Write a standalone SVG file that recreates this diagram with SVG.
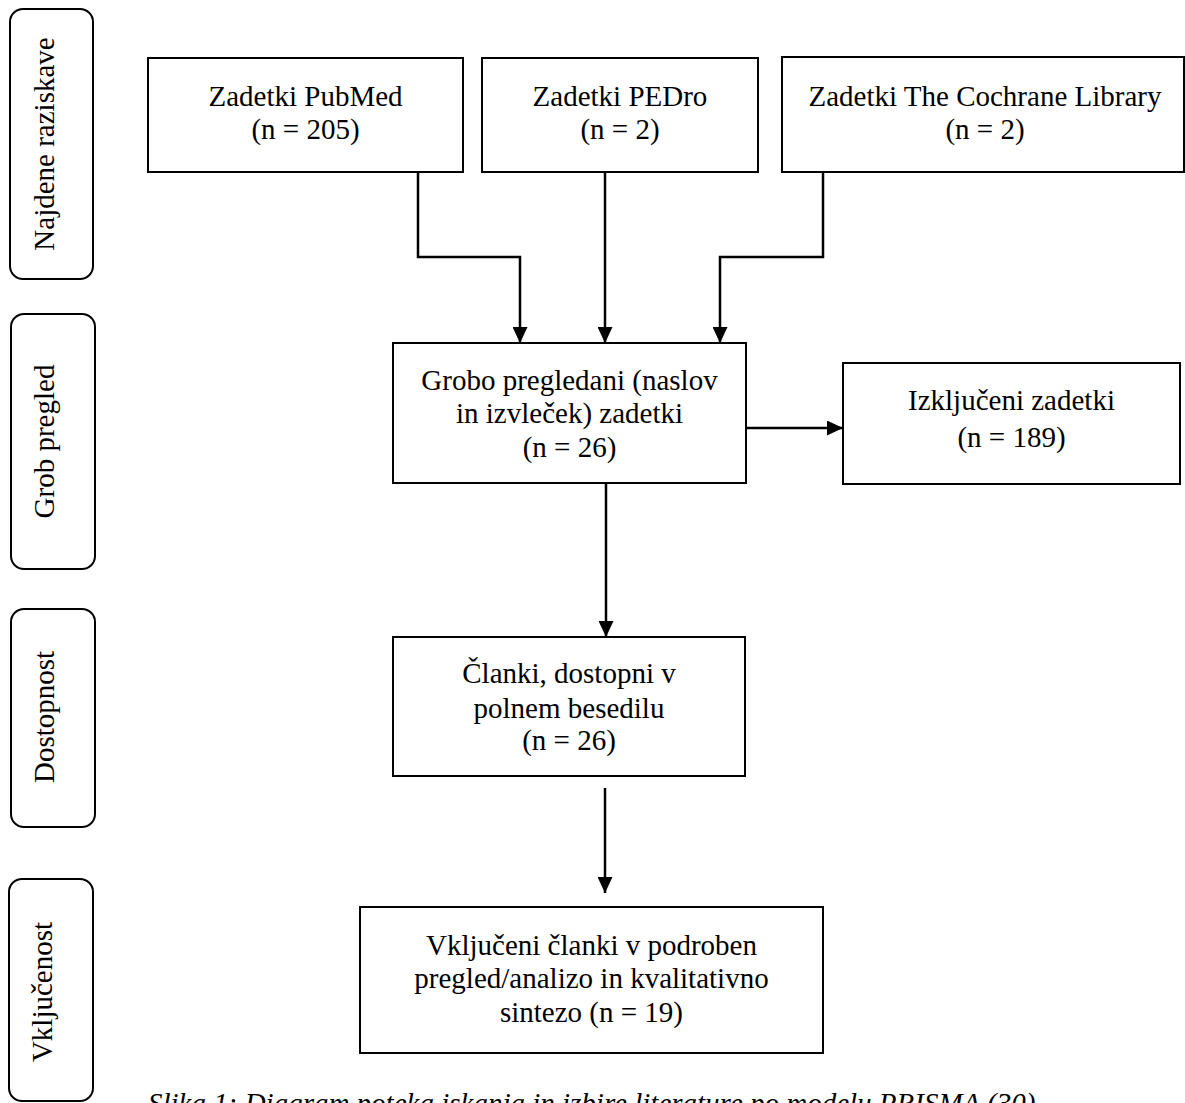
<svg xmlns="http://www.w3.org/2000/svg" width="1185" height="1103" viewBox="0 0 1185 1103">
<style>
text{font-family:"Liberation Serif","Times New Roman",serif;font-size:29px;fill:#000;text-anchor:middle}
.box{fill:#fff;stroke:#000;stroke-width:2}
.phase{fill:#fff;stroke:#000;stroke-width:2}
.con{fill:none;stroke:#000;stroke-width:2.5}
.cap{font-style:italic;text-anchor:start}
</style>
<defs>
<marker id="arr" markerUnits="userSpaceOnUse" markerWidth="16" markerHeight="15" refX="16" refY="7.5" orient="auto">
<path d="M0,0 L16,7.5 L0,15 Z" fill="#000"/>
</marker>
</defs>
<rect width="1185" height="1103" fill="#fff"/>

<g id="phase-najdene">
<rect class="phase" x="10" y="9" width="83" height="270" rx="13"/>
<text transform="translate(54,144) rotate(-90)">Najdene raziskave</text>
</g>
<g id="phase-grob">
<rect class="phase" x="11" y="314" width="84" height="255" rx="13"/>
<text transform="translate(54,441.5) rotate(-90)">Grob pregled</text>
</g>
<g id="phase-dostopnost">
<rect class="phase" x="11" y="609" width="84" height="218" rx="13"/>
<text transform="translate(54,717) rotate(-90)">Dostopnost</text>
</g>
<g id="phase-vkljucenost">
<rect class="phase" x="9" y="879" width="84" height="222" rx="13"/>
<text transform="translate(52,992) rotate(-90)">Vključenost</text>
</g>

<g id="connectors">
<polyline class="con" points="418,172 418,257 520,257 520,343" marker-end="url(#arr)"/>
<line class="con" x1="605" y1="172" x2="605" y2="343" marker-end="url(#arr)"/>
<polyline class="con" points="823,172 823,257 720,257 720,343" marker-end="url(#arr)"/>
<line class="con" x1="746" y1="428" x2="843" y2="428" marker-end="url(#arr)"/>
<line class="con" x1="606" y1="483" x2="606" y2="637" marker-end="url(#arr)"/>
<line class="con" x1="605" y1="788" x2="605" y2="893" marker-end="url(#arr)"/>
</g>

<g id="node-pubmed">
<rect class="box" x="148" y="58" width="315" height="114"/>
<text x="305.5" y="106">Zadetki PubMed</text>
<text x="305.5" y="139">(n = 205)</text>
</g>
<g id="node-pedro">
<rect class="box" x="482" y="58" width="276" height="114"/>
<text x="620" y="106">Zadetki PEDro</text>
<text x="620" y="139">(n = 2)</text>
</g>
<g id="node-cochrane">
<rect class="box" x="782" y="57" width="402" height="115"/>
<text x="985" y="106">Zadetki The Cochrane Library</text>
<text x="985" y="139">(n = 2)</text>
</g>
<g id="node-grobo">
<rect class="box" x="393" y="343" width="353" height="140"/>
<text x="569.5" y="390">Grobo pregledani (naslov</text>
<text x="569.5" y="423">in izvleček) zadetki</text>
<text x="569.5" y="457">(n = 26)</text>
</g>
<g id="node-izkljuceni">
<rect class="box" x="843" y="363" width="337" height="121"/>
<text x="1011.5" y="410">Izključeni zadetki</text>
<text x="1011.5" y="447">(n = 189)</text>
</g>
<g id="node-clanki">
<rect class="box" x="393" y="637" width="352" height="139"/>
<text x="569" y="683">Članki, dostopni v</text>
<text x="569" y="718">polnem besedilu</text>
<text x="569" y="750">(n = 26)</text>
</g>
<g id="node-vkljuceni">
<rect class="box" x="360" y="907" width="463" height="146"/>
<text x="591.5" y="955">Vključeni članki v podroben</text>
<text x="591.5" y="988">pregled/analizo in kvalitativno</text>
<text x="591.5" y="1022">sintezo (n = 19)</text>
</g>

<text class="cap" x="148" y="1113">Slika 1: Diagram poteka iskanja in izbire literature po modelu PRISMA (30)</text>
</svg>
